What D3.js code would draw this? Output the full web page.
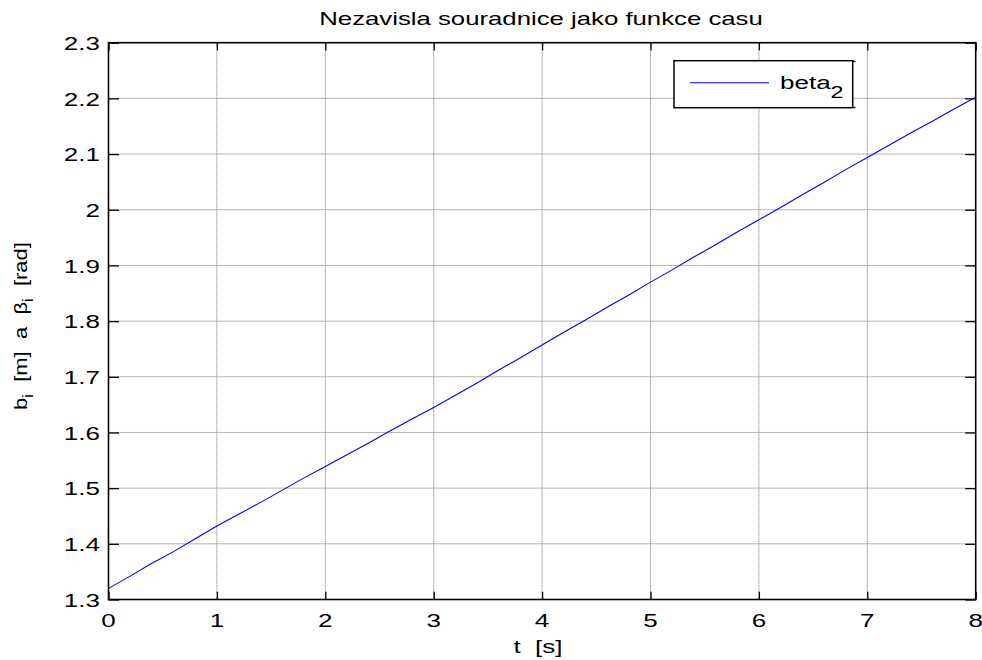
<!DOCTYPE html>
<html><head><meta charset="utf-8">
<script src="https://cdn.jsdelivr.net/npm/d3@7"></script>
<style>
body{margin:0;background:#fff}
svg{display:block}
text{font-family:"Liberation Sans",Arial,Helvetica,sans-serif;fill:#000}
</style></head>
<body><svg id="c" width="982" height="660"></svg>
<script>
// ---- data ----
const time = [0,0.2,0.4,0.6,0.8,1.0,1.2,1.4,1.6,1.8,2.0,2.2,2.4,2.6,2.8,3.0,3.2,3.4,3.6,3.8,4.0,
              4.2,4.4,4.6,4.8,5.0,5.2,5.4,5.6,5.8,6.0,6.2,6.4,6.6,6.8,7.0,7.2,7.4,7.6,7.8,8.0];
const beta2 = [1.320,1.342,1.365,1.386,1.409,1.432,1.453,1.474,1.496,1.518,1.539,1.560,1.581,1.603,1.624,1.645,
               1.667,1.689,1.712,1.734,1.757,1.780,1.802,1.825,1.847,1.870,1.892,1.915,1.937,1.960,1.982,
               2.004,2.027,2.049,2.072,2.094,2.116,2.138,2.159,2.181,2.202];
const xTicks = [0,1,2,3,4,5,6,7,8];
const xTickLabels = ["0","1","2","3","4","5","6","7","8"];
const yTicks = [1.3,1.4,1.5,1.6,1.7,1.8,1.9,2.0,2.1,2.2,2.3];
const yTickLabels = ["1.3","1.4","1.5","1.6","1.7","1.8","1.9","2","2.1","2.2","2.3"];
const titleText = "Nezavisla souradnice jako funkce casu";
const xLabelText = "t  [s]";
const legendName = "beta";
const legendSub = "2";

// ---- layout ----
const L = 108.5, R = 975.7, T = 42.7, B = 599.5;
const SX = 1.37, FS = 19;
const svg = d3.select("#c");
svg.append("rect").attr("width",982).attr("height",660).attr("fill","#fff");

const x = d3.scaleLinear().domain([0,8]).range([L,R]);
const y = d3.scaleLinear().domain([1.3,2.3]).range([B,T]);

// grid
const grid = svg.append("g").attr("stroke","#6e6e6e").attr("stroke-width",1).attr("stroke-dasharray","1,1");
grid.selectAll(".gx").data(xTicks.slice(1,-1)).enter().append("line")
  .attr("x1",d=>x(d)).attr("x2",d=>x(d)).attr("y1",T).attr("y2",B);
grid.selectAll(".gy").data(yTicks.slice(1,-1)).enter().append("line")
  .attr("x1",L).attr("x2",R).attr("y1",d=>y(d)).attr("y2",d=>y(d));

// axes ticks (inward)
function styleAxis(g){ g.select(".domain").remove(); g.selectAll("line").attr("stroke","#000").attr("stroke-width",1.3); }
svg.append("g").attr("transform",`translate(0,${B})`).call(d3.axisBottom(x).tickValues(xTicks).tickSize(-7.7).tickFormat("")).call(styleAxis);
svg.append("g").attr("transform",`translate(0,${T})`).call(d3.axisTop(x).tickValues(xTicks).tickSize(-7.7).tickFormat("")).call(styleAxis);
svg.append("g").attr("transform",`translate(${L},0)`).call(d3.axisLeft(y).tickValues(yTicks).tickSize(-10.5).tickFormat("")).call(styleAxis);
svg.append("g").attr("transform",`translate(${R},0)`).call(d3.axisRight(y).tickValues(yTicks).tickSize(-10.5).tickFormat("")).call(styleAxis);

// data line
svg.append("path").datum(time.map((t,i)=>[t,beta2[i]]))
  .attr("fill","none").attr("stroke","#0000ff").attr("stroke-width",1.1)
  .attr("d", d3.line().x(d=>x(d[0])).y(d=>y(d[1])));

// frame
svg.append("rect").attr("x",L).attr("y",T).attr("width",R-L).attr("height",B-T)
  .attr("fill","none").attr("stroke","#000").attr("stroke-width",1.6);

// text helper
function txt(str, tx, ty, anchor, size){
  return svg.append("text").attr("transform",`translate(${tx},${ty}) scale(${SX},1)`)
    .attr("text-anchor",anchor).attr("font-size",size||FS).style("white-space","pre").text(str);
}
// tick labels
xTicks.forEach((t,i)=>txt(xTickLabels[i], x(t), B+27, "middle"));
yTicks.forEach((v,i)=>txt(yTickLabels[i], 100, y(v)+7.3, "end"));

// title & x label
txt(titleText, 541, 25, "middle", 18.8);
txt(xLabelText, 538, 653, "middle");

// y label (rotated)
const yl = svg.append("text").attr("font-size",FS).attr("text-anchor","middle").style("white-space","pre");
yl.append("tspan").text("b");
yl.append("tspan").attr("font-size",14).attr("dy",6).text("i");
yl.append("tspan").attr("dy",-6).text("  [m]  a  \u03B2");
yl.append("tspan").attr("font-size",14).attr("dy",6).text("i");
yl.append("tspan").attr("dy",-6).text("  [rad]");
const ylw = yl.node().getComputedTextLength();
const ysc = 168/ylw;
yl.attr("transform",`translate(27,326) rotate(-90) scale(${ysc},1)`);

// legend
const lg = svg.append("g");
lg.append("rect").attr("x",674).attr("y",60.7).attr("width",178.7).attr("height",47)
  .attr("fill","#fff").attr("stroke","#000").attr("stroke-width",1.5);
lg.append("line").attr("x1",852.7).attr("x2",855.5).attr("y1",61.5).attr("y2",61.5).attr("stroke","#000").attr("stroke-width",1.3);
lg.append("line").attr("x1",852.7).attr("x2",855.5).attr("y1",107.5).attr("y2",107.5).attr("stroke","#000").attr("stroke-width",1.3);
lg.append("line").attr("x1",690).attr("x2",769).attr("y1",82.7).attr("y2",82.7).attr("stroke","#0000ff").attr("stroke-width",1.1);
const lt = svg.append("text").attr("transform",`translate(780,89) scale(${SX},1)`).attr("font-size",FS);
lt.append("tspan").text(legendName);
lt.append("tspan").attr("font-size",17).attr("dy",9).text(legendSub);
</script></body></html>
